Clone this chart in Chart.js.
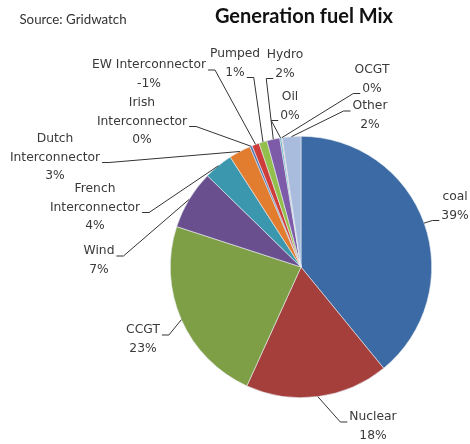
<!DOCTYPE html>
<html>
<head>
<meta charset="utf-8">
<script src="https://cdn.jsdelivr.net/npm/chart.js@4/dist/chart.umd.min.js"></script>
<style>
  html, body { margin: 0; padding: 0; background: #fff; }
  #wrap { position: relative; width: 470px; height: 444px; }
</style>
</head>
<body>
<div id="wrap"><canvas id="pieChart" width="470" height="444"></canvas></div>
<script>
// DATA (percent of generation; EW is an export so it's negative)
const categories = ["coal", "Nuclear", "CCGT", "Wind", "French Interconnector", "Dutch Interconnector",
    "Irish Interconnector", "EW Interconnector", "Pumped", "Hydro", "Oil", "OCGT", "Other"];
const shares = [39.1, 17.7, 23.2, 7.3, 3.6, 2.7, 0.3, -0.9, 1.0, 1.6, 0.2, 0.1, 2.3];
const sliceColors = ["#3b6aa5", "#a43f3c", "#7f9f46", "#6a4f8e", "#3a97ae", "#e27c2e",
    "#4f78b2", "#cf3d3b", "#93c04c", "#7d5ba8", "#3fa9c4", "#f0913f", "#a9bcde"];

// how each category name is broken over lines in its label
const labelLines = [["coal"], ["Nuclear"], ["CCGT"], ["Wind"], ["French", "Interconnector"],
    ["Dutch", "Interconnector"], ["Irish", "Interconnector"], ["EW Interconnector"],
    ["Pumped"], ["Hydro"], ["Oil"], ["OCGT"], ["Other"]];

// label layout: centre x / first line y, and where the leader line leaves the text
const labelPos = [[455, 197], [373, 417], [143, 330], [99, 251], [95, 189], [55, 139],
    [142, 103], [149, 65], [235, 54], [285, 55], [290, 97], [372, 70], [370, 106]];
const leaderFrom = [["L", 1], ["L", 0], ["R", 0], ["R", 0], ["R", 1], ["R", 1],
    ["R", 1], ["R", 0], ["R", 1], ["L", 1], ["L", 1], ["L", 1], ["L", 0]];

const LINE_H = 18.5;
const LABEL_FONT = "12.3px 'DejaVu Sans'";
const TEXT_COLOR = "#3a3a3a";

const labelPlugin = {
    id: "sliceLabels",
    afterDatasetsDraw(chart) {
        const ctx = chart.ctx;
        const arcs = chart.getDatasetMeta(0).data;
        const total = shares.reduce((a, b) => a + Math.abs(b), 0);

        ctx.save();

        // title + source
        ctx.fillStyle = "#111";
        ctx.textAlign = "center";
        ctx.textBaseline = "middle";
        ctx.font = "bold 20px Lato";
        ctx.fillText("Generation fuel Mix", 304, 17);
        ctx.fillStyle = "#333";
        ctx.font = "13.3px Lato";
        ctx.fillText("Source: Gridwatch", 73, 20);

        ctx.font = LABEL_FONT;
        ctx.strokeStyle = "#333";
        ctx.lineWidth = 1;

        arcs.forEach((arc, i) => {
            const pct = Math.round(shares[i] / total * 100);
            const lines = labelLines[i].concat(pct + "%");
            const [cx, cy] = labelPos[i];

            ctx.fillStyle = TEXT_COLOR;
            lines.forEach((t, k) => ctx.fillText(t, cx, cy + k * LINE_H));

            // leader line: short horizontal tick then to the slice edge
            const [side, k] = leaderFrom[i];
            const w = ctx.measureText(lines[k]).width;
            const ly = cy + k * LINE_H + 5;
            const lx = side === "L" ? cx - w / 2 - 2 : cx + w / 2 + 2;
            const ex = side === "L" ? lx - 7 : lx + 7;
            const mid = (arc.startAngle + arc.endAngle) / 2;
            const px = arc.x + Math.cos(mid) * arc.outerRadius;
            const py = arc.y + Math.sin(mid) * arc.outerRadius;

            ctx.beginPath();
            ctx.moveTo(lx, ly);
            ctx.lineTo(ex, ly);
            ctx.lineTo(px, py);
            ctx.stroke();
        });

        ctx.restore();
    }
};

new Chart(document.getElementById("pieChart").getContext("2d"), {
    type: "pie",
    data: {
        labels: categories,
        datasets: [{
            data: shares,
            backgroundColor: sliceColors,
            borderColor: "#e8ecf3",
            borderWidth: 0.6
        }]
    },
    options: {
        responsive: false,
        animation: false,
        events: [],
        layout: { padding: { left: 170, right: 38, top: 136, bottom: 46 } },
        plugins: {
            legend: { display: false },
            tooltip: { enabled: false }
        }
    },
    plugins: [labelPlugin]
});
</script>
</body>
</html>
